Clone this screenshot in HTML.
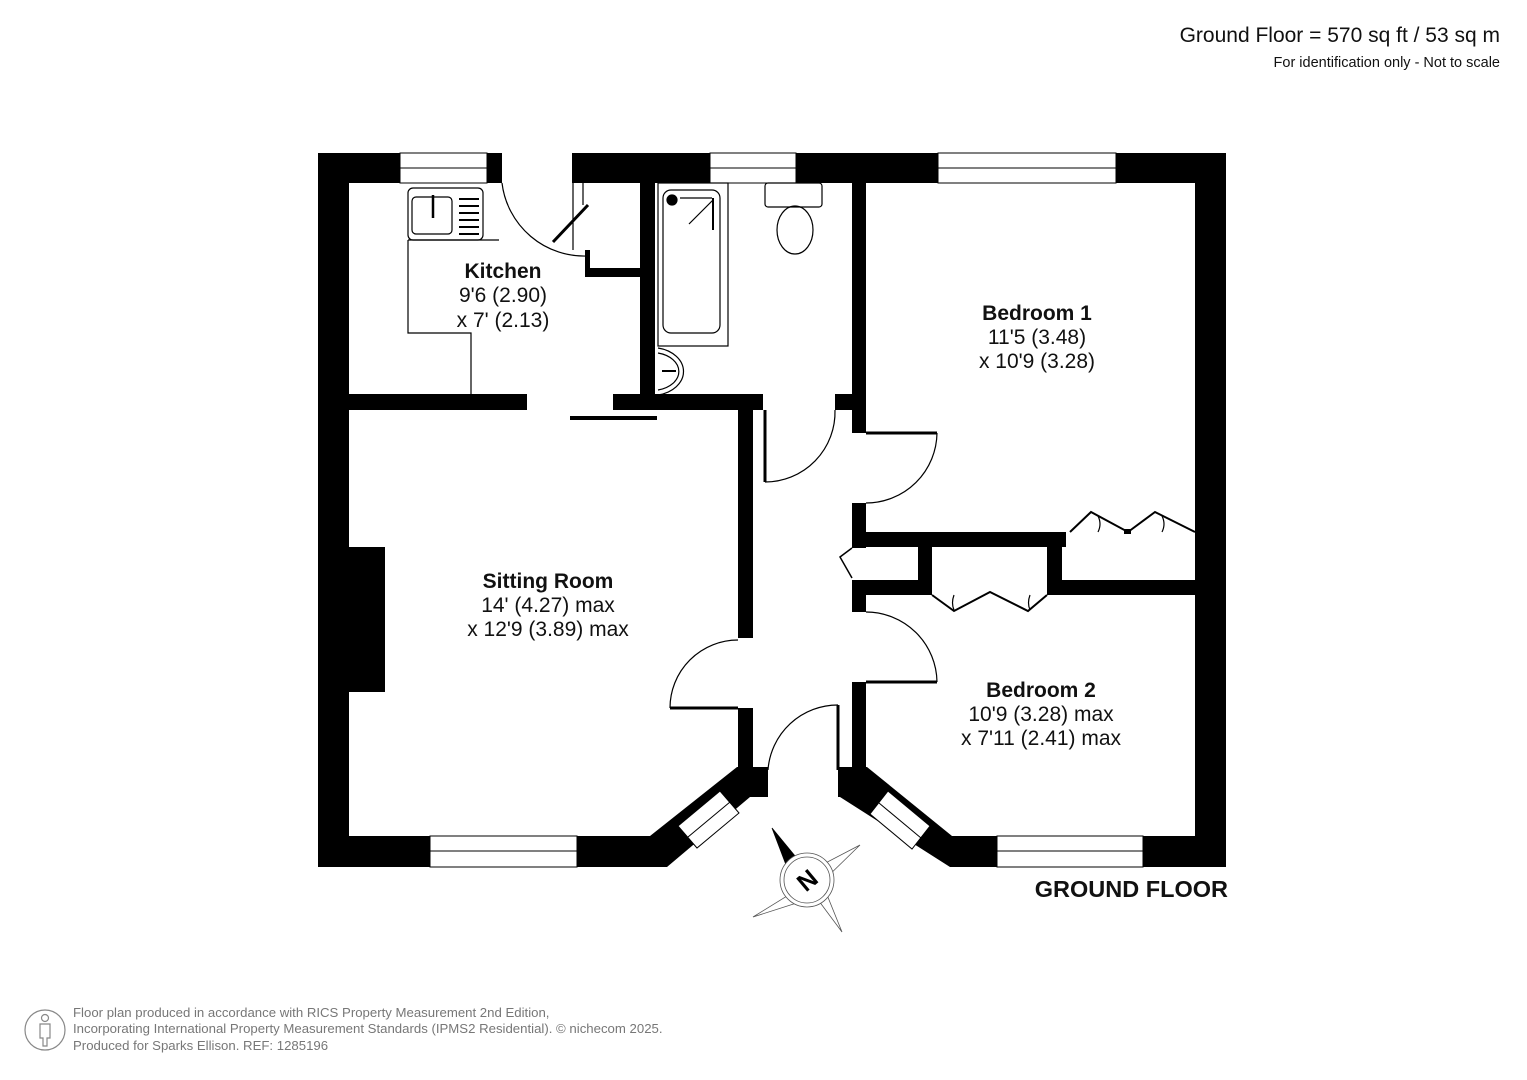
<!DOCTYPE html>
<html><head><meta charset="utf-8"><style>
html,body{margin:0;padding:0;background:#fff;}
svg{display:block;}
text{font-family:"Liberation Sans",Arial,sans-serif;}
</style></head><body>
<svg width="1527" height="1080" viewBox="0 0 1527 1080" xmlns="http://www.w3.org/2000/svg">
<rect width="1527" height="1080" fill="#fff"/>
<text x="1500" y="42" text-anchor="end" font-size="21" fill="#111">Ground Floor = 570 sq ft / 53 sq m</text>
<text x="1500" y="67" text-anchor="end" font-size="14.5" fill="#111">For identification only - Not to scale</text>

<g fill="#000">
<rect x="318" y="153" width="184" height="30"/>
<rect x="572" y="153" width="654" height="30"/>
<rect x="318" y="153" width="31" height="714"/>
<rect x="1195" y="153" width="31" height="714"/>
<rect x="318" y="836" width="259" height="31"/>
<rect x="950" y="836" width="276" height="31"/>
<polygon points="577,836 650,836 737,767 768,767 768,797 750,797 667,867 577,867"/>
<polygon points="838,767 867,767 952,836 997,836 997,867 950,867 840,797 838,797"/>
<rect x="349" y="394" width="178" height="16"/>
<rect x="613" y="394" width="150" height="16"/>
<rect x="570" y="416" width="87" height="4"/>
<rect x="640" y="183" width="15" height="212"/>
<rect x="585" y="250" width="5" height="25"/>
<rect x="585" y="268" width="55" height="9"/>
<rect x="738" y="408" width="15" height="230"/>
<rect x="738" y="708" width="15" height="60"/>
<rect x="852" y="183" width="14" height="250"/>
<rect x="835" y="394" width="17" height="16"/>
<rect x="852" y="503" width="14" height="45"/>
<rect x="852" y="580" width="14" height="32"/>
<rect x="852" y="682" width="14" height="85"/>
<rect x="852" y="532" width="214" height="15"/>
<rect x="1047" y="532" width="15" height="63"/>
<rect x="1047" y="580" width="148" height="15"/>
<rect x="918" y="547" width="14" height="48"/>
<rect x="852" y="580" width="80" height="15"/>
<rect x="349" y="547" width="36" height="145"/>
<rect x="1124" y="529" width="7" height="5"/>
</g>

<g fill="#fff" stroke="#000" stroke-width="1">
<rect x="400" y="153" width="87" height="30"/>
<line x1="400" y1="168" x2="487" y2="168"/>
<rect x="710" y="153" width="86" height="30"/>
<line x1="710" y1="168" x2="796" y2="168"/>
<rect x="938" y="153" width="178" height="30"/>
<line x1="938" y1="168" x2="1116" y2="168"/>
<rect x="430" y="836" width="147" height="31"/>
<line x1="430" y1="851" x2="577" y2="851"/>
<rect x="997" y="836" width="146" height="31"/>
<line x1="997" y1="851" x2="1143" y2="851"/>
<polygon points="678,826 720,791 739,813 697,848"/>
<line x1="688" y1="837" x2="730" y2="802"/>
<polygon points="888,791 930,826 912,849 870,814"/>
<line x1="879" y1="803" x2="921" y2="838"/>
</g>

<g fill="none" stroke="#000" stroke-width="1.2">
<line x1="573" y1="165" x2="573" y2="250"/>
<line x1="583" y1="183" x2="583" y2="205"/>
<path d="M502,183 A83,83 0 0 0 588,256"/>
<line x1="553" y1="242" x2="588" y2="205" stroke-width="3"/>
<line x1="765" y1="410" x2="765" y2="482" stroke-width="3"/>
<path d="M765,482 A70,70 0 0 0 835,410"/>
<line x1="866" y1="433" x2="937" y2="433" stroke-width="3"/>
<path d="M937,433 A71,71 0 0 1 866,503"/>
<line x1="866" y1="682" x2="937" y2="682" stroke-width="3"/>
<path d="M937,682 A71,71 0 0 0 866,612"/>
<line x1="670" y1="708" x2="738" y2="708" stroke-width="3"/>
<path d="M670,708 A68,68 0 0 1 738,640"/>
<line x1="838" y1="705" x2="838" y2="770" stroke-width="3"/>
<path d="M838,705 A70,70 0 0 0 768,770"/>
<polyline points="852,548 840,557 852,578" stroke-width="1.5"/>
<polyline points="1070,532 1091,512 1128,532 1155,512 1195,532" stroke-width="2"/>
<path d="M1098,516 q4,8 0,16 M1162,516 q4,8 0,16"/>
<polyline points="932,595 954,611 990,592 1028,611 1047,595" stroke-width="2"/>
<path d="M954,595 q-3,8 0,15 M1030,595 q-3,8 0,15"/>
<polyline points="408,240 408,333 471,333 471,394"/>
<line x1="408" y1="240" x2="499" y2="240"/>
<rect x="408" y="188" width="75" height="52" rx="5"/>
<rect x="412" y="197" width="40" height="37" rx="4"/>
<line x1="433" y1="195" x2="433" y2="218" stroke-width="2.5"/>
<g stroke-width="2"><line x1="459" y1="199" x2="479" y2="199"/><line x1="459" y1="206" x2="479" y2="206"/><line x1="459" y1="213" x2="479" y2="213"/><line x1="459" y1="220" x2="479" y2="220"/><line x1="459" y1="227" x2="479" y2="227"/><line x1="459" y1="234" x2="479" y2="234"/></g>
<rect x="658" y="183" width="70" height="163"/>
<rect x="663" y="190" width="57" height="143" rx="8"/>
<circle cx="672" cy="200" r="5" fill="#000"/>
<line x1="680" y1="198" x2="712" y2="198"/>
<line x1="713" y1="198" x2="713" y2="230" stroke-width="2"/>
<line x1="689" y1="224" x2="713" y2="200"/>
<path d="M658,348 A32,24 0 0 1 658,395"/>
<path d="M658,353 A27,19 0 0 1 658,390"/>
<line x1="662" y1="371" x2="676" y2="371" stroke-width="2"/>
<rect x="765" y="183" width="57" height="24" rx="3"/>
<ellipse cx="795" cy="230" rx="18" ry="24"/>
</g>

<g text-anchor="middle" fill="#111" font-size="21">
<text x="503" y="278" font-weight="bold">Kitchen</text>
<text x="503" y="302">9'6 (2.90)</text>
<text x="503" y="327">x 7' (2.13)</text>
<text x="1037" y="320" font-weight="bold">Bedroom 1</text>
<text x="1037" y="344">11'5 (3.48)</text>
<text x="1037" y="368">x 10'9 (3.28)</text>
<text x="548" y="588" font-weight="bold">Sitting Room</text>
<text x="548" y="612">14' (4.27) max</text>
<text x="548" y="636">x 12'9 (3.89) max</text>
<text x="1041" y="697" font-weight="bold">Bedroom 2</text>
<text x="1041" y="721">10'9 (3.28) max</text>
<text x="1041" y="745">x 7'11 (2.41) max</text>
</g>
<text x="1228" y="897" text-anchor="end" font-size="23.5" font-weight="bold" fill="#111">GROUND FLOOR</text>

<g stroke="#555" stroke-width="0.8" fill="#fff">
<polygon points="860,845 812,870 820,884"/>
<polygon points="842,932 807,885 821,880"/>
<polygon points="753,917 800,888 806,900"/>
<polygon points="772,828 788,870 800,862" fill="#000" stroke="#000"/>
<circle cx="807" cy="880" r="27"/>
<circle cx="807" cy="880" r="23"/>
</g>
<text x="807" y="889" text-anchor="middle" font-size="25" font-weight="bold" transform="rotate(-40 807 880)">N</text>

<g fill="none" stroke="#888" stroke-width="1.2">
<circle cx="45" cy="1030" r="20"/>
<circle cx="45" cy="1018" r="3.5"/>
<path d="M40,1024 h10 v14 h-3 v8 h-4 v-8 h-3 z"/>
</g>
<g font-size="13.2" fill="#777">
<text x="73" y="1017">Floor plan produced in accordance with RICS Property Measurement 2nd Edition,</text>
<text x="73" y="1033">Incorporating International Property Measurement Standards (IPMS2 Residential).   © nichecom 2025.</text>
<text x="73" y="1050">Produced for Sparks Ellison.   REF: 1285196</text>
</g>
</svg>
</body></html>
